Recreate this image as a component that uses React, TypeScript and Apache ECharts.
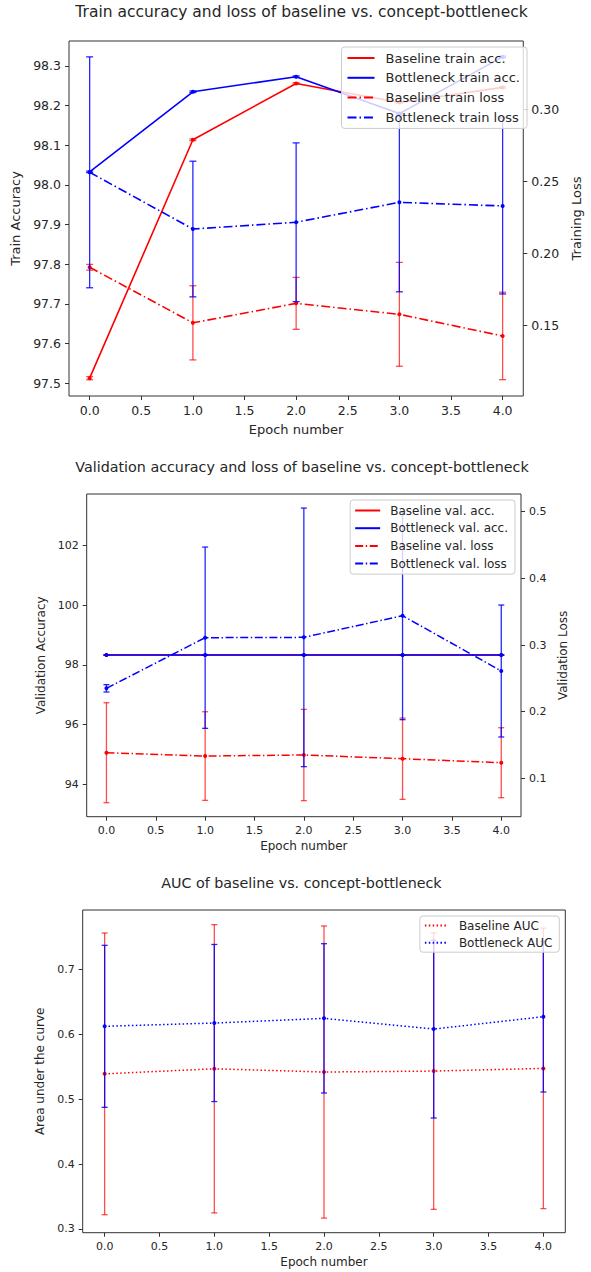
import React, { useEffect, useRef } from "react";
import * as echarts from "echarts";

// ---------- data ----------
const epochs = [0, 1, 2, 3, 4];
const xTicks = [0, 0.5, 1, 1.5, 2, 2.5, 3, 3.5, 4];

// Panel 1: training
const trainAccBase = [97.513, 98.114, 98.256, 98.208, 98.246];
const trainAccBaseErr = [0.004, 0.002, 0.002, 0.002, 0.002];
const trainAccBottle = [98.033, 98.235, 98.273, 98.18, 98.323];
const trainAccBottleErr = [0.002, 0.002, 0.002, 0.002, 0.002];
const trainLossBase = [0.1905, 0.152, 0.1655, 0.1579, 0.1429];
const trainLossBaseErr = [0.002, 0.0257, 0.018, 0.036, 0.0303];
const trainLossBottle = [0.2563, 0.217, 0.2217, 0.2355, 0.233];
const trainLossBottleErr = [0.08, 0.047, 0.055, 0.062, 0.061];
const trainAccTicks = [97.5, 97.6, 97.7, 97.8, 97.9, 98.0, 98.1, 98.2, 98.3];
const trainLossTicks = [0.15, 0.2, 0.25, 0.3];

// Panel 2: validation
const valAccBase = [98.33, 98.33, 98.33, 98.33, 98.33];
const valAccBaseErr = [0, 0, 0, 0, 0];
const valAccBottle = [98.33, 98.33, 98.33, 98.33, 98.33];
const valAccBottleErr = [0, 0, 0, 0, 0];
const valLossBase = [0.1384, 0.1334, 0.135, 0.1294, 0.1234];
const valLossBaseErr = [0.075, 0.0665, 0.0685, 0.061, 0.0525];
const valLossBottle = [0.235, 0.311, 0.3115, 0.344, 0.261];
const valLossBottleErr = [0.0055, 0.136, 0.194, 0.156, 0.099];
const valAccTicks = [94, 96, 98, 100, 102];
const valLossTicks = [0.1, 0.2, 0.3, 0.4, 0.5];

// Panel 3: AUC
const aucBase = [0.539, 0.5468, 0.5418, 0.5433, 0.5474];
const aucBaseErr = [0.217, 0.222, 0.225, 0.213, 0.216];
const aucBottle = [0.6122, 0.6173, 0.6245, 0.608, 0.627];
const aucBottleErr = [0.1248, 0.121, 0.115, 0.137, 0.116];
const aucTicks = [0.3, 0.4, 0.5, 0.6, 0.7];

// ---------- styling helpers ----------
const FONT = "DejaVu Sans";
const TXT = "#262626";
const RED = "#ff0000";
const BLUE = "#0000ff";
const RED_ERR = "rgba(255,0,0,0.7)";
const BLUE_ERR = "rgba(0,0,255,0.85)";

function lineSeries(name: string, xi: number, yi: number, ys: number[], color: string, dash: any, width: number, z: number) {
  return {
    type: "line",
    name,
    xAxisIndex: xi,
    yAxisIndex: yi,
    data: epochs.map((x, i) => [x, ys[i]]),
    symbol: "circle",
    symbolSize: 4,
    showSymbol: true,
    lineStyle: { color, width, type: dash },
    itemStyle: { color },
    emphasis: { disabled: true },
    silent: true,
    z,
  };
}

function errSeries(name: string, xi: number, yi: number, ys: number[], errs: number[], color: string, cap: number, z: number) {
  return {
    type: "custom",
    name,
    coordinateSystem: "cartesian2d",
    xAxisIndex: xi,
    yAxisIndex: yi,
    data: epochs.map((x, i) => [x, ys[i] - errs[i], ys[i] + errs[i]]),
    encode: { x: 0, y: [1, 2] },
    silent: true,
    z,
    renderItem: (_params: any, api: any) => {
      const x = api.value(0);
      const lo = api.coord([x, api.value(1)]);
      const hi = api.coord([x, api.value(2)]);
      const style = { stroke: color, lineWidth: 1.3, fill: null };
      return {
        type: "group",
        children: [
          { type: "line", shape: { x1: lo[0], y1: lo[1], x2: hi[0], y2: hi[1] }, style },
          { type: "line", shape: { x1: lo[0] - cap, y1: lo[1], x2: lo[0] + cap, y2: lo[1] }, style },
          { type: "line", shape: { x1: hi[0] - cap, y1: hi[1], x2: hi[0] + cap, y2: hi[1] }, style },
        ],
      };
    },
  };
}

function xAxis(gridIndex: number, fs: number, nfs: number, nameGap: number) {
  return {
    type: "value",
    gridIndex,
    min: -0.2,
    max: 4.2,
    name: "Epoch number",
    nameLocation: "middle",
    nameGap,
    nameTextStyle: { fontFamily: FONT, fontSize: nfs, color: TXT },
    axisLine: { show: false, onZero: false },
    axisTick: { show: true, length: 4, customValues: xTicks, lineStyle: { color: "#333", width: 1 } },
    axisLabel: { customValues: xTicks, formatter: (v: number) => v.toFixed(1), fontFamily: FONT, fontSize: fs, color: TXT, margin: 8 },
    splitLine: { show: false },
  };
}

function yAxis(gridIndex: number, position: string, min: number, max: number, ticks: number[], digits: number, name: string, nameGap: number, fs: number, nfs: number) {
  return {
    type: "value",
    gridIndex,
    position,
    min,
    max,
    name,
    nameLocation: "middle",
    nameRotate: 90,
    nameGap,
    nameTextStyle: { fontFamily: FONT, fontSize: nfs, color: TXT },
    axisLine: { show: false, onZero: false },
    axisTick: { show: true, length: 4, customValues: ticks, lineStyle: { color: "#333", width: 1 } },
    axisLabel: { customValues: ticks, formatter: (v: number) => v.toFixed(digits), fontFamily: FONT, fontSize: fs, color: TXT, margin: 8 },
    splitLine: { show: false },
  };
}

function legend(names: string[], right: number, top: number, iw: number, fs: number, gap: number, pad: number[], textPad: number) {
  return {
    orient: "vertical",
    right,
    top,
    z: 50,
    itemWidth: iw,
    itemHeight: 10,
    itemGap: gap,
    padding: pad,
    backgroundColor: "rgba(255,255,255,0.8)",
    borderColor: "#cccccc",
    borderWidth: 1,
    borderRadius: 3,
    selectedMode: false,
    itemStyle: { opacity: 0 },
    textStyle: { fontFamily: FONT, fontSize: fs, color: TXT, lineHeight: fs + 1, padding: [0, 0, 0, textPad] },
    data: names,
  };
}

function titleText(text: string, x: number, y: number, fs: number) {
  return {
    type: "text",
    x,
    y,
    silent: true,
    style: { text, fontFamily: FONT, fontSize: fs, fill: TXT, align: "center", verticalAlign: "middle" },
  };
}

const DASHDOT1 = [9, 3, 1.5, 3];
const DASHDOT2 = [8, 2.6, 1.4, 2.6];
const DOTTED = [1.5, 2.4];

export default function App() {
  const ref = useRef<HTMLDivElement>(null);
  useEffect(() => {
    if (!ref.current) return;
    const chart = echarts.init(ref.current, undefined, { renderer: "svg" });
    const gridBase = { show: true, borderColor: "#333", borderWidth: 1, backgroundColor: "transparent", containLabel: false };
    const option: any = {
      animation: false,
      backgroundColor: "#ffffff",
      grid: [
        { ...gridBase, left: 69, top: 41, width: 465, height: 355 },
        { ...gridBase, left: 86.7, top: 494, width: 434.3, height: 322.7 },
        { ...gridBase, left: 82.7, top: 910, width: 482.6, height: 322.7 },
      ],
      xAxis: [xAxis(0, 12.5, 13, 27), xAxis(1, 11, 12, 23.5), xAxis(2, 11, 12, 23)],
      yAxis: [
        yAxis(0, "left", 97.468, 98.363, trainAccTicks, 1, "Train Accuracy", 42, 12.5, 13),
        yAxis(0, "right", 0.1013, 0.3473, trainLossTicks, 2, "Training Loss", 46, 12.5, 13),
        yAxis(1, "left", 92.91, 103.73, valAccTicks, 0, "Validation Accuracy", 35.5, 11, 12),
        yAxis(1, "right", 0.0424, 0.5266, valLossTicks, 1, "Validation Loss", 22, 11, 12),
        yAxis(2, "left", 0.2943, 0.7914, aucTicks, 1, "Area under the curve", 31.5, 11, 12),
      ],
      legend: [
        legend(["Baseline train acc.", "Bottleneck train acc.", "Baseline train loss", "Bottleneck train loss"], 64, 47, 27, 13, 5.8, [4, 7, 4, 5], 6),
        legend(["Baseline val. acc.", "Bottleneck val. acc.", "Baseline val. loss", "Bottleneck val. loss"], 76, 500, 25, 12, 4.7, [4, 7, 4, 4], 5),
        legend(["Baseline AUC", "Bottleneck AUC"], 31.7, 916, 23, 12, 4.2, [3, 7, 3, 4], 6),
      ],
      graphic: [
        titleText("Train accuracy and loss of baseline vs. concept-bottleneck", 301.5, 12, 15.5),
        titleText("Validation accuracy and loss of baseline vs. concept-bottleneck", 302, 467, 14.3),
        titleText("AUC of baseline vs. concept-bottleneck", 301.4, 883, 14.3),
      ],
      series: [
        // panel 1
        errSeries("err-base-acc", 0, 0, trainAccBase, trainAccBaseErr, RED_ERR, 3.5, 2),
        lineSeries("Baseline train acc.", 0, 0, trainAccBase, RED, "solid", 1.6, 3),
        errSeries("err-bottle-acc", 0, 0, trainAccBottle, trainAccBottleErr, BLUE_ERR, 3.5, 4),
        lineSeries("Bottleneck train acc.", 0, 0, trainAccBottle, BLUE, "solid", 1.6, 5),
        errSeries("err-base-loss", 0, 1, trainLossBase, trainLossBaseErr, RED_ERR, 3.5, 6),
        lineSeries("Baseline train loss", 0, 1, trainLossBase, RED, DASHDOT1, 1.6, 7),
        errSeries("err-bottle-loss", 0, 1, trainLossBottle, trainLossBottleErr, BLUE_ERR, 3.5, 8),
        lineSeries("Bottleneck train loss", 0, 1, trainLossBottle, BLUE, DASHDOT1, 1.6, 9),
        // panel 2
        errSeries("err-base-vacc", 1, 2, valAccBase, valAccBaseErr, RED_ERR, 3, 2),
        lineSeries("Baseline val. acc.", 1, 2, valAccBase, RED, "solid", 1.5, 3),
        errSeries("err-bottle-vacc", 1, 2, valAccBottle, valAccBottleErr, BLUE_ERR, 3, 4),
        lineSeries("Bottleneck val. acc.", 1, 2, valAccBottle, BLUE, "solid", 1.5, 5),
        errSeries("err-base-vloss", 1, 3, valLossBase, valLossBaseErr, RED_ERR, 3, 6),
        lineSeries("Baseline val. loss", 1, 3, valLossBase, RED, DASHDOT2, 1.5, 7),
        errSeries("err-bottle-vloss", 1, 3, valLossBottle, valLossBottleErr, BLUE_ERR, 3, 8),
        lineSeries("Bottleneck val. loss", 1, 3, valLossBottle, BLUE, DASHDOT2, 1.5, 9),
        // panel 3
        errSeries("err-base-auc", 2, 4, aucBase, aucBaseErr, RED_ERR, 3, 2),
        lineSeries("Baseline AUC", 2, 4, aucBase, RED, DOTTED, 1.5, 3),
        errSeries("err-bottle-auc", 2, 4, aucBottle, aucBottleErr, BLUE_ERR, 3, 4),
        lineSeries("Bottleneck AUC", 2, 4, aucBottle, BLUE, DOTTED, 1.5, 5),
      ],
    };
    chart.setOption(option);
    return () => chart.dispose();
  }, []);
  return <div ref={ref} style={{ position: "absolute", left: 0, top: 0, width: 591, height: 1272 }} />;
}
